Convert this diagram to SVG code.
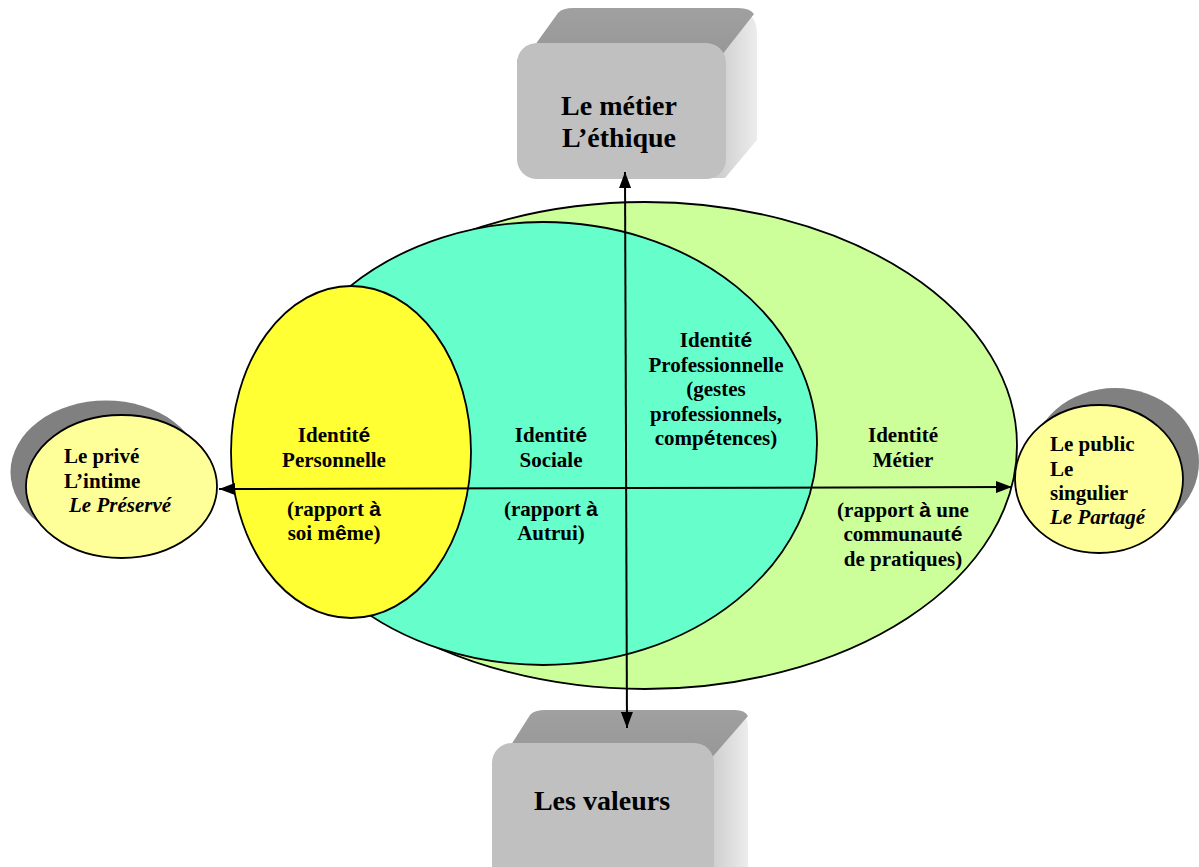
<svg xmlns="http://www.w3.org/2000/svg" width="1199" height="867" viewBox="0 0 1199 867">
<defs>
<style>
.t{font-family:"Liberation Serif","Times New Roman",serif;font-weight:bold;fill:#000}
.s{font-family:"Liberation Sans",Arial,sans-serif;font-weight:bold}
.c{text-anchor:middle;font-size:21px}
.l{font-size:21px}
.b{text-anchor:middle;font-size:28px}
.i{font-style:italic}
.edge{stroke:#000;stroke-width:1.8}
.ax{stroke:#000;stroke-width:2;fill:none;marker-start:url(#arr);marker-end:url(#arr)}
</style>
<marker id="arr" viewBox="0 0 16 12" refX="16" refY="6" markerWidth="16" markerHeight="12" markerUnits="userSpaceOnUse" orient="auto-start-reverse"><path d="M0,0 L16,6 L0,12 Z" fill="#000"/></marker>
<linearGradient id="side" x1="0" y1="0" x2="1" y2="0"><stop offset="0" stop-color="#c4c4c4"/><stop offset="1" stop-color="#ececec"/></linearGradient>
<linearGradient id="top" x1="0" y1="0" x2="0" y2="1"><stop offset="0" stop-color="#a0a0a0"/><stop offset="1" stop-color="#949494"/></linearGradient>
</defs>

<g id="identite-metier"><ellipse cx="645" cy="445.5" rx="372" ry="243.5" fill="#ccff99" class="edge"/></g>
<g id="identite-sociale"><ellipse cx="543" cy="443.5" rx="274" ry="221.5" fill="#66ffcc" class="edge"/></g>
<g id="identite-personnelle"><ellipse cx="351" cy="452" rx="120" ry="166" fill="#ffff33" class="edge"/></g>

<g id="prive">
<ellipse cx="106" cy="472" rx="95.5" ry="71.5" fill="#808080"/>
<ellipse cx="121.5" cy="486.5" rx="95.5" ry="71.5" fill="#ffff99" class="edge"/>
<text class="t l" x="64" y="463">Le privé</text>
<text class="t l" x="64" y="488">L’intime</text>
<text class="t l i" x="69" y="512">Le Préservé</text>
</g>

<g id="public">
<ellipse cx="1115" cy="462" rx="84" ry="74" fill="#808080"/>
<ellipse cx="1099" cy="479" rx="84" ry="74" fill="#ffff99" class="edge"/>
<text class="t l" x="1050" y="451">Le public</text>
<text class="t l" x="1050" y="476">Le</text>
<text class="t l" x="1050" y="500">singulier</text>
<text class="t l i" x="1050" y="524">Le Partagé</text>
</g>

<g id="metier-ethique">
<path d="M705,60 L742,12 Q757,14 757,35 L757,140 L725,178 L705,178 Z" fill="url(#side)"/>
<path d="M517,70 L558,13 Q562,8 574,8 L738,8 Q750,8 754,14 L718,60 L517,60 Z" fill="url(#top)"/>
<rect x="517" y="43" width="209" height="136" rx="20" fill="#c0c0c0"/>
<text class="t b" x="619" y="115">Le métier</text>
<text class="t b" x="619" y="147">L’éthique</text>
</g>

<g id="valeurs">
<path d="M700,765 L740,712 Q748,714 748,730 L748,867 L700,867 Z" fill="url(#side)"/>
<path d="M492,775 L530,715 Q534,710 546,710 L735,710 Q745,710 748,716 L708,762 L492,762 Z" fill="url(#top)"/>
<rect x="492" y="743" width="222" height="150" rx="20" fill="#c0c0c0"/>
<text class="t b" x="602" y="810">Les valeurs</text>
</g>

<g id="connectors">
<path class="ax" d="M627,728 L625,172"/>
<path class="ax" d="M219,489 L1012,487"/>
</g>

<g id="labels-personnelle">
<text class="t c" x="334" y="442">Identit<tspan class="s">é</tspan></text>
<text class="t c" x="334" y="467">Personnelle</text>
<text class="t c" x="334" y="516">(rapport <tspan class="s">à</tspan></text>
<text class="t c" x="334" y="540">soi m<tspan class="s">ê</tspan>me)</text>
</g>
<g id="labels-sociale">
<text class="t c" x="551" y="442">Identit<tspan class="s">é</tspan></text>
<text class="t c" x="551" y="467">Sociale</text>
<text class="t c" x="551" y="516">(rapport <tspan class="s">à</tspan></text>
<text class="t c" x="551" y="540">Autrui)</text>
</g>
<g id="labels-professionnelle">
<text class="t c" x="716" y="347">Identit<tspan class="s">é</tspan></text>
<text class="t c" x="716" y="371.5">Professionnelle</text>
<text class="t c" x="716" y="396">(gestes</text>
<text class="t c" x="716" y="420.5">professionnels,</text>
<text class="t c" x="716" y="445">comp<tspan class="s">é</tspan>tences)</text>
</g>
<g id="labels-metier">
<text class="t c" x="903" y="442">Identité</text>
<text class="t c" x="903" y="467">Métier</text>
<text class="t c" x="903" y="516.5">(rapport <tspan class="s">à</tspan> une</text>
<text class="t c" x="903" y="541">communaut<tspan class="s">é</tspan></text>
<text class="t c" x="903" y="565.5">de pratiques)</text>
</g>
</svg>
